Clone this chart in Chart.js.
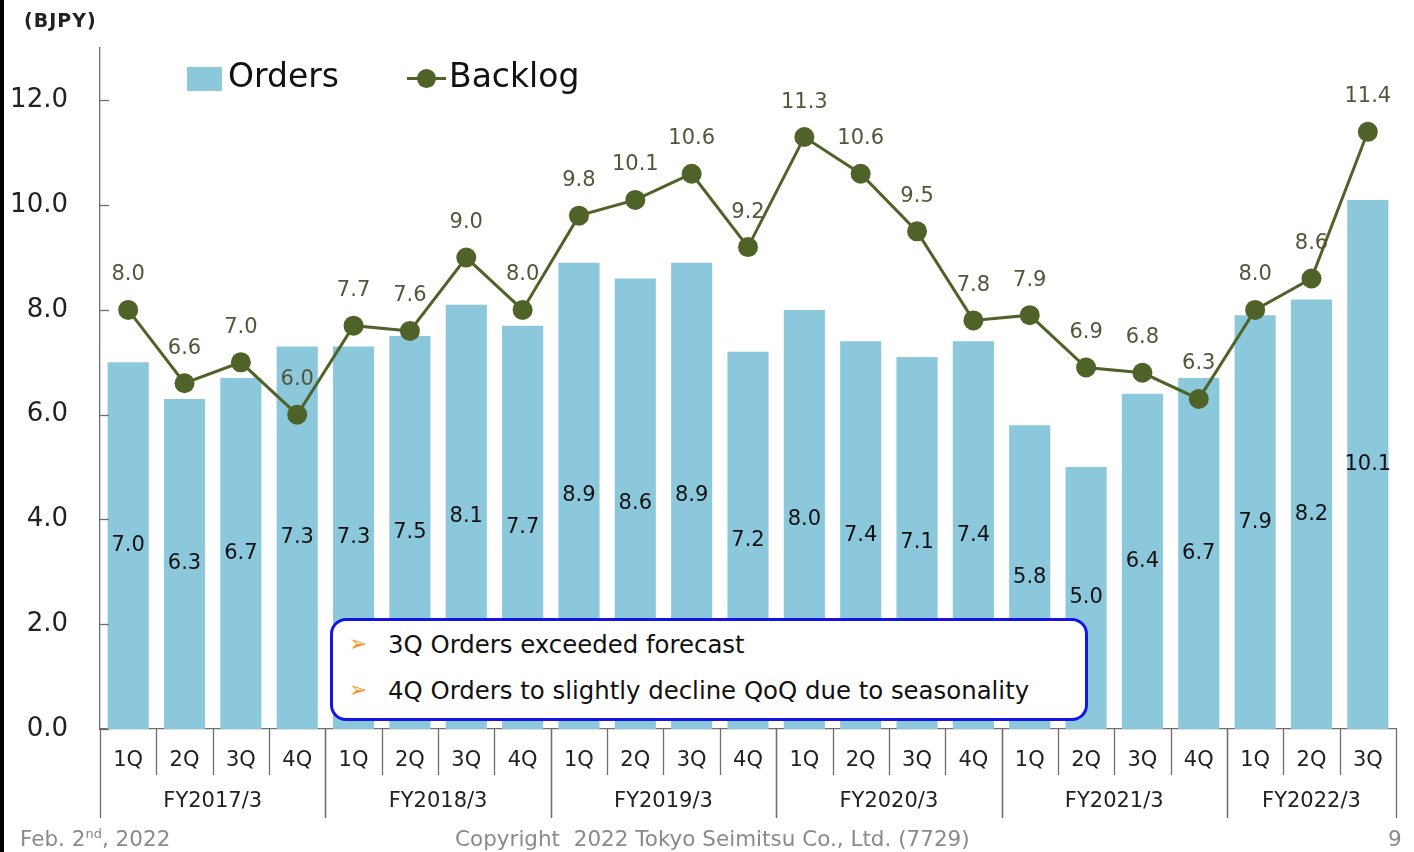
<!DOCTYPE html>
<html>
<head>
<meta charset="utf-8">
<script src="https://cdn.jsdelivr.net/npm/chart.js@4.4.0/dist/chart.umd.min.js"></script>
<style>
  html, body { margin: 0; padding: 0; background: #fff; }
  #wrap { position: relative; width: 1414px; height: 852px; overflow: hidden; font-family: "DejaVu Sans", Verdana, sans-serif; }
  #wrap canvas { position: absolute; left: 0; top: 0; }
  .frame { position: absolute; left: 0; top: 0; width: 4px; height: 852px; background: #000; }
  .unit { position: absolute; left: 24px; top: 9px; font-weight: bold; font-size: 19px; letter-spacing: 1px; color: #222; }
  .leg-box { position: absolute; left: 187px; top: 67px; width: 35px; height: 24px; background: #8cc8dc; }
  .leg-text { position: absolute; top: 56px; font-size: 33px; line-height: 40px; color: #111; }
  .leg-line { position: absolute; left: 407px; top: 77px; width: 39px; height: 3px; background: #4f6228; }
  .leg-dot { position: absolute; left: 417px; top: 69px; width: 19px; height: 19px; border-radius: 50%; background: #4f6228; }
  .note { position: absolute; left: 330px; top: 618px; width: 752px; height: 97px; border: 3px solid #1414e6; border-radius: 16px; background: #fff; }
  .note div { position: absolute; left: 55px; font-size: 24.4px; line-height: 30px; color: #111; white-space: nowrap; }
  .note span { position: absolute; left: -39px; top: -1px; font-size: 22px; color: #f39a2c; }
  .foot { position: absolute; top: 826px; font-size: 21.5px; line-height: 26px; color: #8a8a8a; white-space: nowrap; }
  .foot sup { font-size: 13px; line-height: 0; }
</style>
</head>
<body>
<div id="wrap">
  <canvas id="chart" width="1414" height="852"></canvas>
  <div class="frame"></div>
  <div class="unit">(BJPY)</div>
  <div class="leg-box"></div>
  <div class="leg-text" style="left:228px">Orders</div>
  <div class="leg-line"></div>
  <div class="leg-dot"></div>
  <div class="leg-text" style="left:449px">Backlog</div>
  <div class="note">
    <div style="top:9px"><span>&#10146;</span>3Q Orders exceeded forecast</div>
    <div style="top:55px"><span>&#10146;</span>4Q Orders to slightly decline QoQ due to seasonality</div>
  </div>
  <div class="foot" style="left:20px">Feb. 2<sup>nd</sup>, 2022</div>
  <div class="foot" style="left:455px">Copyright&nbsp; 2022 Tokyo Seimitsu Co., Ltd. (7729)</div>
  <div class="foot" style="left:1388px">9</div>
</div>
<script>
// quarters and fiscal-year groups
const quarters = ['1Q','2Q','3Q','4Q','1Q','2Q','3Q','4Q','1Q','2Q','3Q','4Q',
                  '1Q','2Q','3Q','4Q','1Q','2Q','3Q','4Q','1Q','2Q','3Q'];
const groups = ['FY2017/3','FY2018/3','FY2019/3','FY2020/3','FY2021/3','FY2022/3'];
const groupSizes = [4, 4, 4, 4, 4, 3];

// values in BJPY
const orders = [7.0, 6.3, 6.7, 7.3, 7.3, 7.5, 8.1, 7.7, 8.9, 8.6, 8.9, 7.2,
                8.0, 7.4, 7.1, 7.4, 5.8, 5.0, 6.4, 6.7, 7.9, 8.2, 10.1];
const backlog = [8.0, 6.6, 7.0, 6.0, 7.7, 7.6, 9.0, 8.0, 9.8, 10.1, 10.6, 9.2,
                 11.3, 10.6, 9.5, 7.8, 7.9, 6.9, 6.8, 6.3, 8.0, 8.6, 11.4];
const yTicks = [0, 2, 4, 6, 8, 10, 12];

const FONT = '"DejaVu Sans", Verdana, sans-serif';

const extras = {
    id: 'extras',
    afterDatasetsDraw(chart) {
        const ctx = chart.ctx;
        ctx.save();
        ctx.textAlign = 'center';
        ctx.textBaseline = 'middle';
        ctx.font = '21px ' + FONT;
        // order labels in the middle of each bar
        ctx.fillStyle = '#111';
        chart.getDatasetMeta(1).data.forEach((bar, i) => {
            ctx.fillText(orders[i].toFixed(1), bar.x, (bar.y + bar.base) / 2);
        });
        // backlog labels above each point
        ctx.fillStyle = '#55553a';
        chart.getDatasetMeta(0).data.forEach((pt, i) => {
            ctx.fillText(backlog[i].toFixed(1), pt.x, pt.y - 35);
        });
        ctx.restore();
    },
    afterDraw(chart) {
        const ctx = chart.ctx;
        const x = chart.scales.x, y = chart.scales.y;
        const area = chart.chartArea;
        const step = x.getPixelForValue(1) - x.getPixelForValue(0);
        ctx.save();
        ctx.strokeStyle = '#6e6e6e';
        ctx.lineWidth = 1.3;
        // inward y tick marks
        yTicks.forEach(v => {
            const py = Math.round(y.getPixelForValue(v)) + 0.5;
            ctx.beginPath();
            ctx.moveTo(area.left, py);
            ctx.lineTo(area.left + 9, py);
            ctx.stroke();
        });
        // category separators and group labels
        ctx.font = '21px ' + FONT;
        ctx.fillStyle = '#222';
        ctx.textAlign = 'center';
        ctx.textBaseline = 'middle';
        let start = 0;
        groupSizes.forEach((size, g) => {
            for (let i = start; i <= start + size; i++) {
                const px = Math.round(x.getPixelForValue(i) - step / 2) + 0.5;
                const long = (i === start || i === start + size);
                ctx.beginPath();
                ctx.moveTo(px, area.bottom);
                ctx.lineTo(px, long ? 818 : 775);
                ctx.stroke();
            }
            const cx = (x.getPixelForValue(start) + x.getPixelForValue(start + size - 1)) / 2;
            ctx.fillText(groups[g], cx, 802);
            start += size;
        });
        ctx.restore();
    }
};

new Chart(document.getElementById('chart').getContext('2d'), {
    type: 'bar',
    data: {
        labels: quarters,
        datasets: [{
            type: 'line',
            label: 'Backlog',
            data: backlog,
            borderColor: '#4f6228',
            backgroundColor: '#4f6228',
            borderWidth: 3,
            pointRadius: 10,
            pointBackgroundColor: '#4f6228',
            pointBorderWidth: 0,
            tension: 0,
            order: 0
        }, {
            type: 'bar',
            label: 'Orders',
            data: orders,
            backgroundColor: '#8cc8dc',
            categoryPercentage: 1,
            barPercentage: 0.73,
            order: 1
        }]
    },
    options: {
        responsive: false,
        animation: false,
        layout: { padding: { top: 48, right: 18, bottom: 33, left: 0 } },
        plugins: {
            legend: { display: false },
            tooltip: { enabled: false }
        },
        scales: {
            x: {
                grid: { display: false },
                border: { display: true, color: '#6e6e6e', width: 1.3 },
                ticks: { color: '#222', font: { size: 21, family: FONT }, padding: 11, maxRotation: 0, autoSkip: false },
                afterFit(scale) { scale.height = 90; }
            },
            y: {
                min: 0,
                max: 13,
                grid: { display: false, drawTicks: false },
                border: { display: true, color: '#6e6e6e', width: 1.3 },
                afterBuildTicks(scale) { scale.ticks = yTicks.map(v => ({ value: v })); },
                ticks: {
                    color: '#222',
                    padding: 32,
                    font: { size: 26, family: FONT },
                    callback: v => Number(v).toFixed(1)
                },
                afterFit(scale) { scale.width = 100; }
            }
        }
    },
    plugins: [extras]
});
</script>
</body>
</html>
